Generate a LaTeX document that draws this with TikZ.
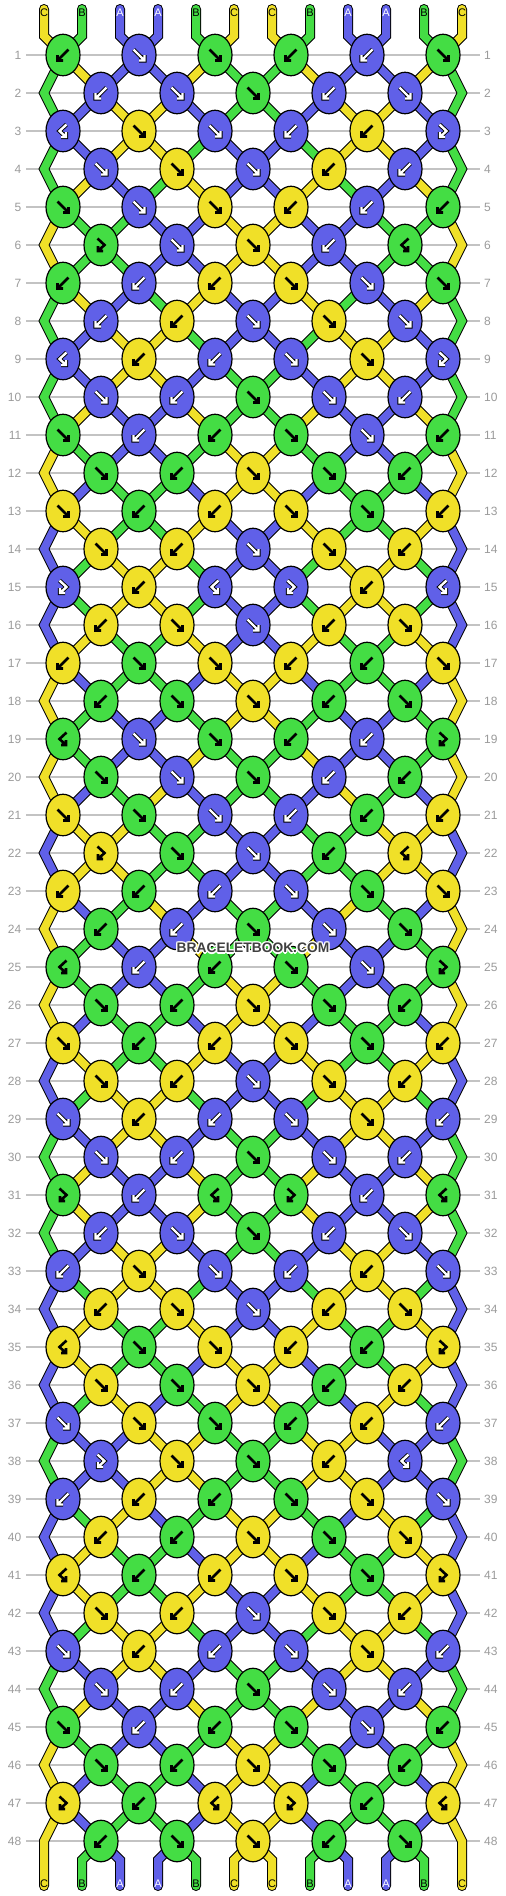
\documentclass[tikz,border=0pt]{standalone}
\usepackage{fontspec}
\setmainfont{Liberation Sans}
\usetikzlibrary{shapes.geometric}
\pgfdeclarelayer{grid}
\pgfdeclarelayer{outl}
\pgfdeclarelayer{fil}
\pgfsetlayers{grid,outl,fil,main}
\definecolor{Y}{RGB}{240,224,40}
\definecolor{G}{RGB}{68,221,68}
\definecolor{A}{RGB}{96,96,232}
\definecolor{numgray}{RGB}{155,155,155}
\definecolor{linegray}{RGB}{195,195,195}
\definecolor{wmark}{RGB}{64,64,64}
\tikzset{
  knot/.style={ellipse,draw=black,line width=1.2pt,minimum width=34pt,minimum height=41.5pt,inner sep=0pt},
  gridline/.style={linegray,line width=1.2pt},
  rownum/.style={text=numgray,font=\fontsize{12}{12}\selectfont,inner sep=0pt},
  strlabel/.style={font=\fontsize{11}{11}\selectfont,inner sep=0pt},
  segout/.style={line width=10pt,black,line cap=round,line join=miter},
  segin/.style={line width=8pt,line cap=round,line join=miter},
  glyphout/.style={line width=4.2pt,black,line join=miter},
  glyphin/.style={line width=2.4pt,line join=miter},
  wm/.style={font=\bfseries\fontsize{13.8}{14}\selectfont,inner sep=0pt}
}
\newcommand\krow[2]{\expandafter\gdef\csname kr#1\endcsname{#2}}
\krow{1}{B,F,F,B,B,F}
\krow{2}{B,F,F,B,F}
\krow{3}{BF,F,F,B,B,FB}
\krow{4}{F,F,F,B,B}
\krow{5}{F,F,F,B,B,B}
\krow{6}{FB,F,F,B,BF}
\krow{7}{B,B,B,F,F,F}
\krow{8}{B,B,F,F,F}
\krow{9}{BF,B,B,F,F,FB}
\krow{10}{F,B,F,F,B}
\krow{11}{F,B,B,F,F,B}
\krow{12}{F,B,F,F,B}
\krow{13}{F,B,B,F,F,B}
\krow{14}{F,B,F,F,B}
\krow{15}{FB,B,BF,FB,B,BF}
\krow{16}{B,F,F,B,F}
\krow{17}{B,F,F,B,B,F}
\krow{18}{B,F,F,B,F}
\krow{19}{BF,F,F,B,B,FB}
\krow{20}{F,F,F,B,B}
\krow{21}{F,F,F,B,B,B}
\krow{22}{FB,F,F,B,BF}
\krow{23}{B,B,B,F,F,F}
\krow{24}{B,B,F,F,F}
\krow{25}{BF,B,B,F,F,FB}
\krow{26}{F,B,F,F,B}
\krow{27}{F,B,B,F,F,B}
\krow{28}{F,B,F,F,B}
\krow{29}{F,B,B,F,F,B}
\krow{30}{F,B,F,F,B}
\krow{31}{FB,B,BF,FB,B,BF}
\krow{32}{B,F,F,B,F}
\krow{33}{B,F,F,B,B,F}
\krow{34}{B,F,F,B,F}
\krow{35}{BF,F,F,B,B,FB}
\krow{36}{F,F,F,B,B}
\krow{37}{F,F,F,B,B,B}
\krow{38}{FB,F,F,B,BF}
\krow{39}{B,B,B,F,F,F}
\krow{40}{B,B,F,F,F}
\krow{41}{BF,B,B,F,F,FB}
\krow{42}{F,B,F,F,B}
\krow{43}{F,B,B,F,F,B}
\krow{44}{F,B,F,F,B}
\krow{45}{F,B,B,F,F,B}
\krow{46}{F,B,F,F,B}
\krow{47}{FB,B,BF,FB,B,BF}
\krow{48}{B,F,F,B,F}
\def\tyF{F}\def\tyB{B}\def\tyFB{FB}\def\tyBF{BF}
\def\cA{A}
\def\letY{C}\def\letG{B}\def\letA{A}
\def\tcY{black}\def\tcG{black}\def\tcA{white}
\def\gpF{(-5.5,-5.5) -- (5.5,5.5) (0,5.5) -- (5.5,5.5) -- (5.5,0)}
\def\gpB{(5.5,-5.5) -- (-5.5,5.5) (0,5.5) -- (-5.5,5.5) -- (-5.5,0)}
\def\gpFB{(-3.5,-6.5) -- (3.5,0) -- (-3,6) (2,6) -- (-3,6) -- (-3,1)}
\def\gpBF{(3.5,-6.5) -- (-3.5,0) -- (3,6) (-2,6) -- (3,6) -- (3,1)}
\gdef\outcmds{}
\gdef\filcmds{}
\newcommand\seg[2]{%
  \xdef\outcmds{\unexpanded\expandafter{\outcmds}\noexpand\draw[segout] #2;}%
  \xdef\filcmds{\unexpanded\expandafter{\filcmds}\noexpand\draw[segin,#1] #2;}}
\newcommand\knot[6]{%
  \edef\cp{\csname st#1\endcsname}\edef\cq{\csname st#2\endcsname}%
  \edef\tmp{\noexpand\seg{\cp}{\csname lp#1\endcsname -- (#3,#4)}}\tmp
  \edef\tmp{\noexpand\seg{\cq}{\csname lp#2\endcsname -- (#3,#4)}}\tmp
  \edef\ty{#5}%
  \ifx\ty\tyF \let\kc\cp \expandafter\xdef\csname st#1\endcsname{\cq}\expandafter\xdef\csname st#2\endcsname{\cp}\fi
  \ifx\ty\tyB \let\kc\cq \expandafter\xdef\csname st#1\endcsname{\cq}\expandafter\xdef\csname st#2\endcsname{\cp}\fi
  \ifx\ty\tyFB \let\kc\cp \fi
  \ifx\ty\tyBF \let\kc\cq \fi
  \expandafter\xdef\csname lp#1\endcsname{(#3,#4)}%
  \expandafter\xdef\csname lp#2\endcsname{(#3,#4)}%
  \node[knot,fill=\kc] (#6) at (#3,#4) {};
  \begin{scope}[shift={(#3,#4)}]
  \ifx\kc\cA
    \edef\tmp{\noexpand\draw[glyphout] \csname gp\ty\endcsname;}\tmp
    \edef\tmp{\noexpand\draw[glyphin,white] \csname gp\ty\endcsname;}\tmp
  \else
    \edef\tmp{\noexpand\draw[glyphin,black,line width=2.6pt] \csname gp\ty\endcsname;}\tmp
  \fi
  \end{scope}}
\begin{document}
\begin{tikzpicture}[x=1pt,y=-1pt]
\begin{pgfonlayer}{grid}
\fill[white] (0,0) rectangle (506,1896);
\foreach \r in {1,...,48}{
  \pgfmathtruncatemacro\ky{55+38*(\r-1)}
  \draw[gridline] (26,\ky) -- (480,\ky);
}
\end{pgfonlayer}
\useasboundingbox (0,0) rectangle (506,1896);
\foreach \c [count=\n from 0] in {Y,G,A,A,G,Y,Y,G,A,A,G,Y}{
  \pgfmathtruncatemacro\xx{44+38*\n}
  \expandafter\xdef\csname st\n\endcsname{\c}
  \expandafter\xdef\csname lp\n\endcsname{(\xx,9) -- (\xx,36)}
  \node[strlabel,text=\csname tc\c\endcsname] (lt\n) at (\xx,13) {\csname let\c\endcsname};
}
\foreach \r in {1,...,48}{
  \pgfmathtruncatemacro\ky{55+38*(\r-1)}
  \pgfmathtruncatemacro\odd{mod(\r,2)}
  \node[rownum,anchor=east] (nl\r) at (21.5,\ky) {\r};
  \node[rownum,anchor=west] (nr\r) at (484,\ky) {\r};
  \ifnum\odd=1 \def\off{0}\else \def\off{1}\fi
  \edef\klist{\csname kr\r\endcsname}
  \foreach \t [count=\i from 0] in \klist {
    \pgfmathtruncatemacro\pp{\off+2*\i}
    \pgfmathtruncatemacro\qq{\pp+1}
    \pgfmathtruncatemacro\kx{63+38*\pp}
    \knot{\pp}{\qq}{\kx}{\ky}{\t}{k\r-\i}
  }
  \ifnum\odd=0
    \xdef\lpa{\csname lp0\endcsname}
    \expandafter\xdef\csname lp0\endcsname{\lpa -- (44,\ky)}
    \xdef\lpb{\csname lp11\endcsname}
    \expandafter\xdef\csname lp11\endcsname{\lpb -- (462,\ky)}
  \fi
}
\foreach \n in {0,...,11}{
  \pgfmathtruncatemacro\xx{44+38*\n}
  \edef\cc{\csname st\n\endcsname}
  \edef\tmp{\noexpand\seg{\cc}{\csname lp\n\endcsname -- (\xx,1860) -- (\xx,1886)}}\tmp
  \node[strlabel,text=\csname tc\cc\endcsname] (lb\n) at (\xx,1884) {\csname let\cc\endcsname};
}
\begin{pgfonlayer}{outl}
\outcmds
\end{pgfonlayer}
\begin{pgfonlayer}{fil}
\filcmds
\end{pgfonlayer}
\foreach \dx/\dy [count=\m] in {-1/-1,1/-1,-1/1,1/1,0/-1.4,0/1.4,-1.4/0,1.4/0}
  \node[wm,text=white,shift={(\dx,\dy)}] (wmh\m) at (253,948) {BRACELETBOOK.COM};
\node[wm,text=wmark] (wm) at (253,948) {BRACELETBOOK.COM};
\end{tikzpicture}
\end{document}
